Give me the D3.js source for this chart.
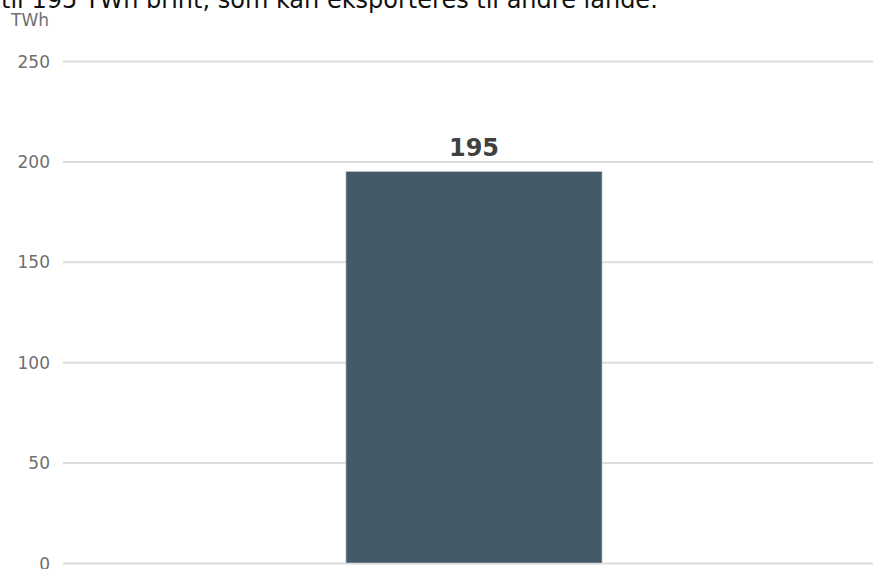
<!DOCTYPE html>
<html>
<head>
<meta charset="utf-8">
<script src="https://cdn.jsdelivr.net/npm/d3@7"></script>
<style>
  html, body { margin: 0; padding: 0; background: #fff; overflow: hidden; }
  svg { display: block; font-family: "DejaVu Sans", sans-serif; }
  .grid line { stroke: #dcdcdc; stroke-width: 2px; }
  .grid path { display: none; }
  .grid text { fill: #707070; font-size: 17px; font-family: "DejaVu Sans", sans-serif; }
</style>
</head>
<body>
<div id="chart"></div>
<script>
(function () {
  "use strict";

  // data
  var categories = ["Eksport"];
  var values = [195];
  var yTicks = [0, 50, 100, 150, 200, 250];
  var unitLabel = "TWh";
  var titleLine = "til 195 TWh brint, som kan eksporteres til andre lande.";

  var width = 873,
      height = 569;
  var left = 63, right = 873, top = 61, bottom = 563;

  var svg = d3.select("#chart").append("svg")
      .attr("width", width)
      .attr("height", height);

  // last line of the intro text, cut at the top
  svg.append("text")
      .attr("x", 1)
      .attr("y", 8)
      .attr("fill", "#111")
      .style("font-size", "24px")
      .text(titleLine);

  var y = d3.scaleLinear()
      .domain([0, 250])
      .range([bottom, top]);

  var x = d3.scaleBand()
      .domain(categories)
      .range([64, 884])
      .padding(0.524);

  // gridlines + tick labels
  var yAxis = d3.axisLeft(y)
      .tickValues(yTicks)
      .tickSize(-(right - left))
      .tickPadding(13);

  svg.append("g")
      .attr("class", "grid")
      .attr("transform", "translate(" + left + ",0)")
      .call(yAxis)
      .selectAll("text")
      .attr("dy", "0.36em");

  svg.append("text")
      .attr("x", 49)
      .attr("y", 26)
      .attr("text-anchor", "end")
      .attr("fill", "#707070")
      .style("font-size", "17px")
      .text(unitLabel);

  var data = categories.map(function (c, i) { return { cat: c, val: values[i] }; });

  svg.selectAll("rect.bar")
      .data(data)
    .enter().append("rect")
      .attr("class", "bar")
      .attr("x", function (d) { return x(d.cat); })
      .attr("y", function (d) { return y(d.val); })
      .attr("width", x.bandwidth())
      .attr("height", function (d) { return y(0) - y(d.val); })
      .attr("fill", "#445a69")
      .attr("stroke", "#c8d0d5")
      .attr("stroke-width", 0.6);

  svg.selectAll("text.val")
      .data(data)
    .enter().append("text")
      .attr("class", "val")
      .attr("x", function (d) { return x(d.cat) + x.bandwidth() / 2; })
      .attr("y", function (d) { return y(d.val) - 15; })
      .attr("text-anchor", "middle")
      .attr("fill", "#404040")
      .style("font-size", "24px")
      .style("font-weight", "bold")
      .text(function (d) { return d.val; });
}());
</script>
</body>
</html>
